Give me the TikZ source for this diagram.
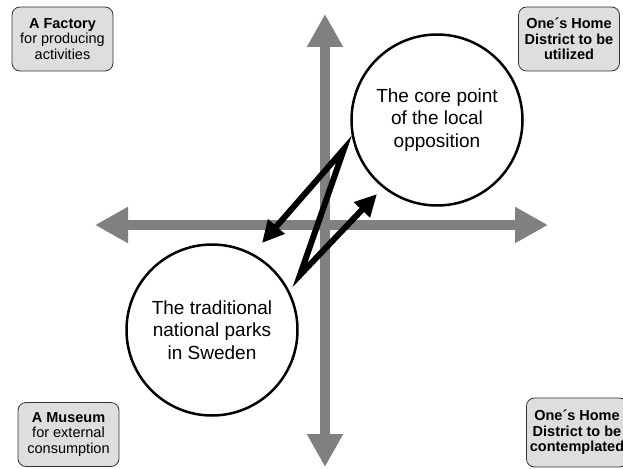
\documentclass[tikz,border=0pt]{standalone}
\usepackage{fontspec}
\setmainfont{Liberation Sans}
\usetikzlibrary{arrows.meta}

\begin{document}
\begin{tikzpicture}
  [x=1pt,y=-1pt,every node/.style={align=center,font=\fontsize{14.5}{15.5}\selectfont}]
 \tikzset{AxisStyle/.style={draw=gray,line width=10pt,{Triangle[length=33pt,width=34pt]}-{Triangle[length=33pt,width=34pt]}}}
 \tikzset{BoxStyle/.style={draw=black!80,line width=0.8pt,fill=black!13,rounded corners=8pt,minimum width=101pt,minimum height=64pt,inner sep=1pt}}
 \tikzset{CircleStyle/.style={circle,draw,line width=2.5pt,fill=white,minimum size=171pt,font=\fontsize{19}{22.5}\selectfont}}
 \tikzset{EdgeStyle/.style={line width=6pt,{Triangle[length=22pt,width=21pt]}-{Triangle[length=22pt,width=21pt]}}}
 \useasboundingbox (0,0) rectangle (623,468);

  % axes
  \coordinate (a1) at (95,225);
  \coordinate (a2) at (548,225);
  \coordinate (a3) at (325,467);
  \coordinate (a4) at (325,14);
 \foreach \from/\to in {a1/a2,a3/a4}
    \draw[AxisStyle] (\from) -- (\to);

  % corners
  \node[BoxStyle] (b1) at (62.5,39) {\textbf{A Factory}\\for producing\\activities};
  \node[BoxStyle] (b2) at (569,39) {\textbf{One\textasciiacute s Home}\\\textbf{District to be}\\\textbf{utilized}};
  \node[BoxStyle] (b3) at (68.5,434.5) {\textbf{A Museum}\\for external\\consumption};
  \node[BoxStyle,minimum height=69pt] (b4) at (577,432.5) {\textbf{One\textasciiacute s Home}\\\textbf{District to be}\\\textbf{contemplated}};

  % circles
  \node[CircleStyle] (c1) at (437,120) {The core point\\of the local\\opposition};
  \node[CircleStyle] (c2) at (212,330) {The traditional\\national parks\\in Sweden};

  % zigzag
  \coordinate (z1) at (262,243);
  \coordinate (z2) at (344,149);
  \coordinate (z3) at (300,275);
  \coordinate (z4) at (377,194);
  \draw[EdgeStyle] (z1) -- (z2) -- (z3) -- (z4);

\end{tikzpicture}
\end{document}
